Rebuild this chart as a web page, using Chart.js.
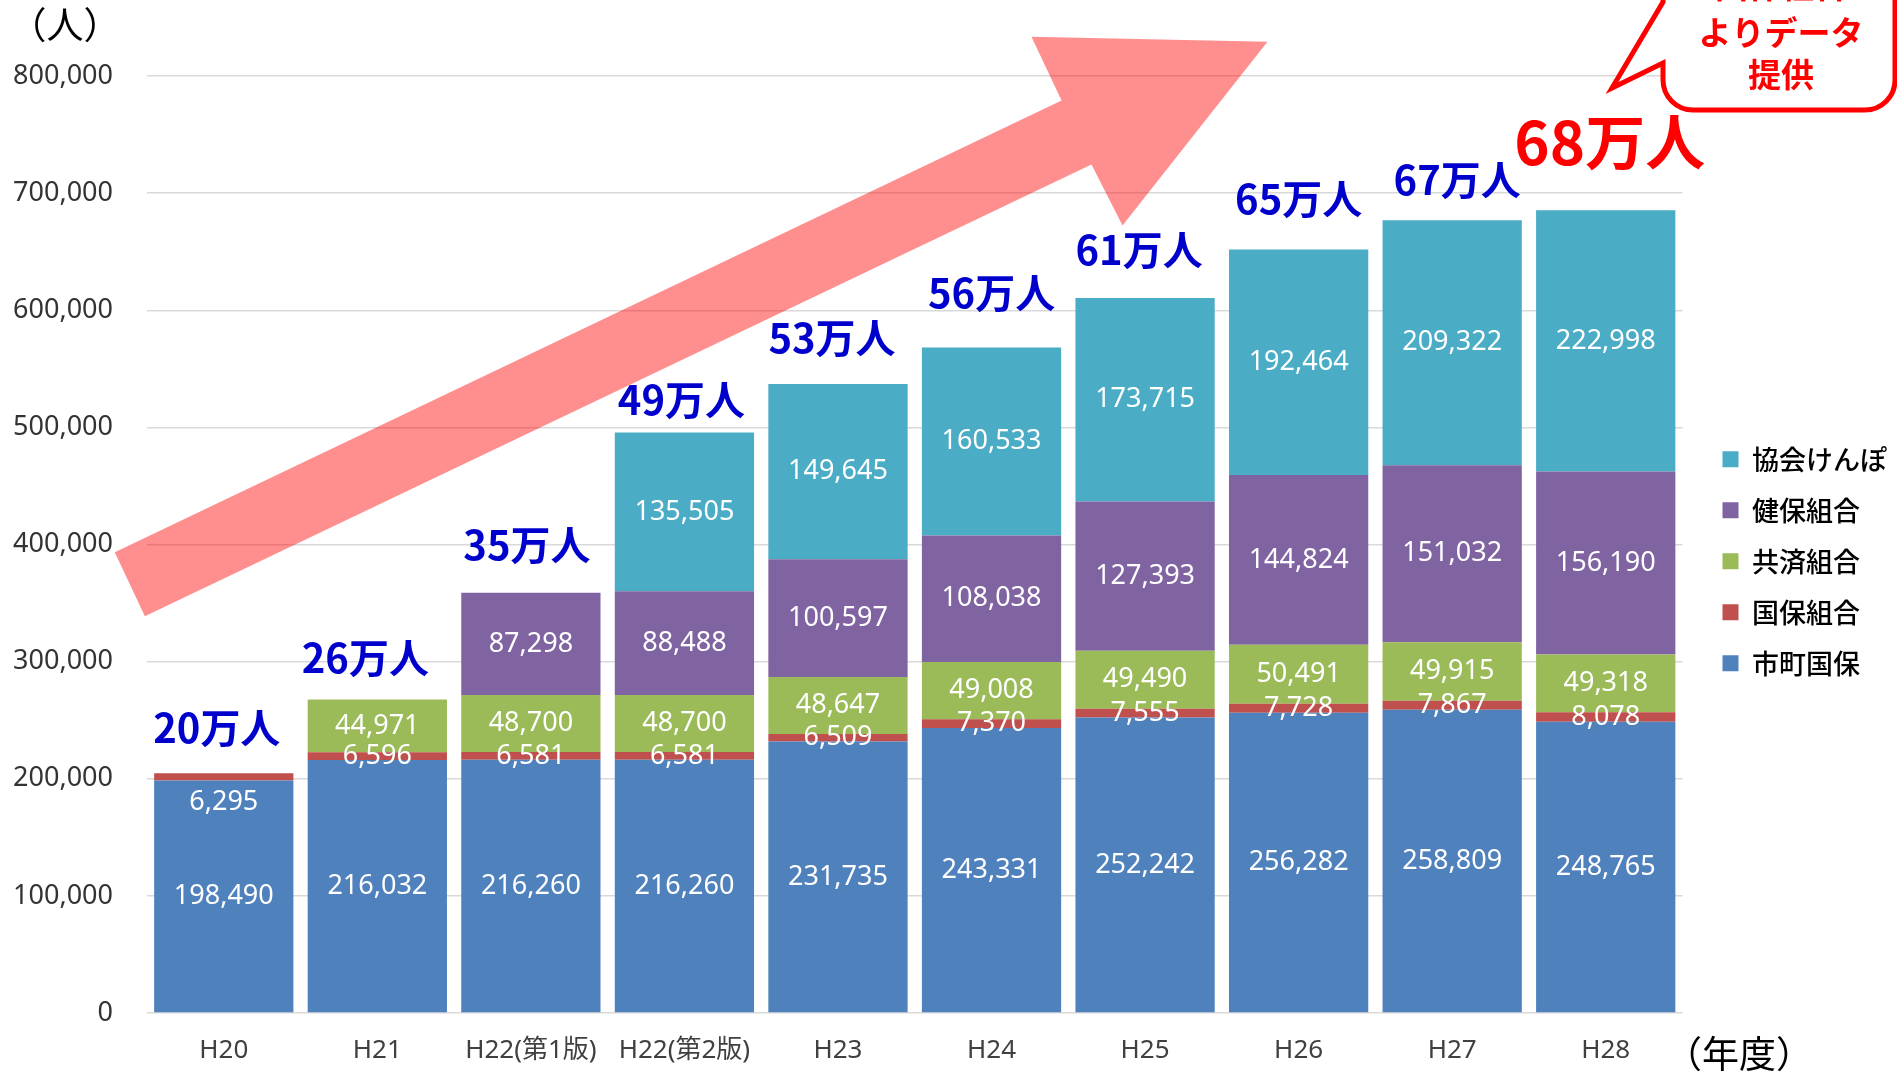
<!DOCTYPE html>
<html>
<head>
<meta charset="utf-8">
<script src="https://cdn.jsdelivr.net/npm/chart.js@4/dist/chart.umd.min.js"></script>
<style>
body { margin: 0; background: #fff; }
canvas { display: block; }
</style>
</head>
<body>
<canvas id="members_plot" width="1897" height="1072"></canvas>
<script>
// 年度
var years = ["H20", "H21", "H22(第1版)", "H22(第2版)", "H23", "H24", "H25", "H26", "H27", "H28"];

// 加入者数 (人)
var shichosonKokuho = [198490, 216032, 216260, 216260, 231735, 243331, 252242, 256282, 258809, 248765];
var kokuhoKumiai = [6295, 6596, 6581, 6581, 6509, 7370, 7555, 7728, 7867, 8078];
var kyosaiKumiai = [null, 44971, 48700, 48700, 48647, 49008, 49490, 50491, 49915, 49318];
var kenpoKumiai = [null, null, 87298, 88488, 100597, 108038, 127393, 144824, 151032, 156190];
var kyokaiKenpo = [null, null, null, 135505, 149645, 160533, 173715, 192464, 209322, 222998];

var totalText = ["20万人", "26万人", "35万人", "49万人", "53万人", "56万人", "61万人", "65万人", "67万人", "68万人"];
var yTicks = [0, 100000, 200000, 300000, 400000, 500000, 600000, 700000, 800000];

var latin = "'Noto Sans', 'Noto Sans CJK JP', sans-serif";
var jp = "'Noto Sans CJK JP', sans-serif";

// big pink trend arrow, drawn behind the bars (points as [category, value])
var trendArrow = {
    id: "trendArrow",
    beforeDatasetsDraw: function(chart) {
        var xs = chart.scales.x, ys = chart.scales.y, ctx = chart.ctx;
        var pts = [[-0.71, 393300], [5.456, 779000], [5.26, 833600], [6.797, 829300],
                   [5.853, 672400], [5.651, 724400], [-0.514, 338700]];
        ctx.save();
        ctx.beginPath();
        pts.forEach(function(p, i) {
            var px = xs.getPixelForValue(p[0]), py = ys.getPixelForValue(p[1]);
            if (i === 0) ctx.moveTo(px, py); else ctx.lineTo(px, py);
        });
        ctx.closePath();
        ctx.fillStyle = "rgba(255, 0, 0, 0.44)";
        ctx.fill();
        ctx.restore();
    }
};

var valueLabels = {
    id: "valueLabels",
    afterDatasetsDraw: function(chart) {
        var ctx = chart.ctx;
        ctx.save();
        ctx.textAlign = "center";
        ctx.textBaseline = "middle";
        ctx.font = "27px " + latin;
        ctx.fillStyle = "#ffffff";
        chart.data.datasets.forEach(function(ds, di) {
            chart.getDatasetMeta(di).data.forEach(function(bar, i) {
                var v = ds.data[i];
                if (v === null) return;
                var yMid = (bar.y + bar.base) / 2;
                if (di === 1 && i === 0) yMid += 25;
                ctx.fillText(v.toLocaleString("en-US"), bar.x, yMid);
            });
        });

        // totals above each stack
        var offs = [[-7, -45], [-12, -42], [-4, -48], [-3, -33], [-6, -46],
                    [0, -55], [-6, -48], [0, -51], [5, -40], [4, -68]];
        years.forEach(function(y, i) {
            var top = Infinity, cx = 0;
            chart.data.datasets.forEach(function(ds, di) {
                var bar = chart.getDatasetMeta(di).data[i];
                if (ds.data[i] !== null && bar.y < top) { top = bar.y; cx = bar.x; }
            });
            var last = i === years.length - 1;
            ctx.font = "bold " + (last ? 60 : 40) + "px " + jp;
            ctx.fillStyle = last ? "#ff0000" : "#0000cc";
            ctx.fillText(totalText[i], cx + offs[i][0], top + offs[i][1]);
        });
        ctx.restore();
    }
};

var extras = {
    id: "extras",
    afterDraw: function(chart) {
        var ctx = chart.ctx;
        ctx.save();
        ctx.textAlign = "center";
        ctx.textBaseline = "middle";
        ctx.fillStyle = "#000000";
        ctx.font = "37px " + jp;
        ctx.fillText("（人）", 65, 25);
        ctx.font = "37px " + jp;
        ctx.fillText("（年度）", 1739, 1054);

        // callout in the top right corner
        var L = 1663, R = 1895, T = -40, B = 110, r = 30;
        ctx.beginPath();
        ctx.moveTo(L, T);
        ctx.lineTo(L, 2);
        ctx.lineTo(1612, 88);
        ctx.lineTo(L, 63);
        ctx.lineTo(L, B - r);
        ctx.arcTo(L, B, L + r, B, r);
        ctx.lineTo(R - r, B);
        ctx.arcTo(R, B, R, B - r, r);
        ctx.lineTo(R, T);
        ctx.closePath();
        ctx.fillStyle = "#ffffff";
        ctx.fill();
        ctx.lineWidth = 5;
        ctx.lineJoin = "miter";
        ctx.strokeStyle = "#ff0000";
        ctx.stroke();
        ctx.fillStyle = "#ff0000";
        ctx.font = "bold 33px " + jp;
        ctx.fillText("国保組合", 1781, -15);
        ctx.fillText("よりデータ", 1781, 32);
        ctx.fillText("提供", 1781, 74);
        ctx.restore();
    }
};

new Chart(document.getElementById("members_plot"), {
    type: "bar",
    data: {
        labels: years,
        datasets: [
            { label: "市町国保", data: shichosonKokuho, backgroundColor: "#4f81bd" },
            { label: "国保組合", data: kokuhoKumiai, backgroundColor: "#c0504d" },
            { label: "共済組合", data: kyosaiKumiai, backgroundColor: "#9bbb59" },
            { label: "健保組合", data: kenpoKumiai, backgroundColor: "#8064a2" },
            { label: "協会けんぽ", data: kyokaiKenpo, backgroundColor: "#4bacc6" }
        ]
    },
    options: {
        responsive: false,
        animation: false,
        devicePixelRatio: 1,
        locale: "en-US",
        categoryPercentage: 0.907,
        barPercentage: 1,
        layout: { padding: { left: 0, top: 76, right: 0, bottom: 7 } },
        scales: {
            x: {
                stacked: true,
                afterFit: function(s) { s.height = 52; },
                grid: { display: false },
                border: { display: false },
                ticks: { color: "#404040", font: { family: latin, size: 26 }, padding: 14, maxRotation: 0, autoSkip: false }
            },
            y: {
                stacked: true,
                min: 0,
                max: 800000,
                afterBuildTicks: function(s) { s.ticks = yTicks.map(function(v) { return { value: v }; }); },
                afterFit: function(s) { s.width = 147; },
                grid: { color: "#d9d9d9", lineWidth: 1.5, drawTicks: false },
                border: { display: false },
                ticks: { color: "#333333", font: { family: latin, size: 27 }, padding: 34 }
            },
            yR: {
                position: "right",
                grid: { display: false },
                border: { display: false },
                ticks: { display: false },
                afterFit: function(s) { s.width = 16; }
            }
        },
        plugins: {
            legend: {
                position: "right",
                fullSize: false,
                reverse: true,
                // empty title only pushes the item column down a little
                title: { display: true, text: "", padding: 6, font: { size: 18 } },
                labels: { boxWidth: 16, boxHeight: 16, padding: 24, color: "#000000", font: { family: jp, size: 27, weight: "500" } }
            },
            title: { display: false },
            tooltip: { enabled: false }
        }
    },
    plugins: [trendArrow, valueLabels, extras]
});
</script>
</body>
</html>
